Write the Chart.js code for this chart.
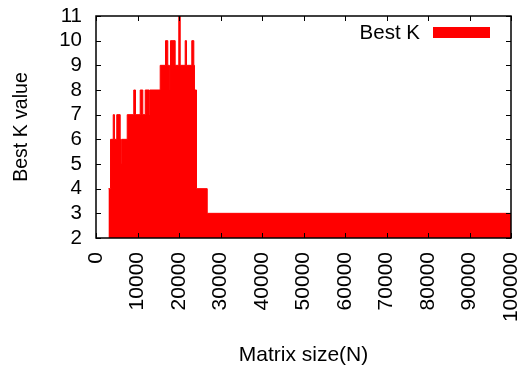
<!DOCTYPE html>
<html>
<head>
<meta charset="utf-8">
<script src="https://cdn.jsdelivr.net/npm/chart.js@4/dist/chart.umd.min.js"></script>
<style>
  html, body { margin: 0; padding: 0; background: #fff; }
  #wrap { width: 526px; height: 375px; }
</style>
</head>
<body>
<div id="wrap"><canvas id="kChart" width="526" height="375"></canvas></div>
<script>
// matrix size where a new best K starts (value holds until the next entry)
const sizes = [3000, 3500, 4150, 4450, 5000, 5830, 6070, 6220, 7520, 9100, 9520,
    10650, 11280, 11860, 12800, 12950, 15470, 16750, 17300, 17700, 17950, 19080,
    19950, 20290, 21490, 21810, 23080, 23570, 23730, 24220, 26800, 100000];
const bestK = [4, 6, 7, 6, 7, 6, 5, 6, 7, 8, 7,
    8, 7, 8, 7, 8, 9, 10, 9, 8, 10, 9,
    11, 9, 10, 9, 10, 9, 8, 4, 3, 3];
const xTicks = [0, 10000, 20000, 30000, 40000, 50000, 60000, 70000, 80000, 90000, 100000];
const yTicks = [2, 3, 4, 5, 6, 7, 8, 9, 10, 11];

const FONT = 'Liberation Sans, Arial, sans-serif';

const points = sizes.map((n, i) => ({ x: n, y: bestK[i] }));

// gnuplot style frame, inward ticks and the key
const framePlugin = {
    id: 'frame',
    afterDatasetsDraw(chart) {
        const ctx = chart.ctx;
        const a = chart.chartArea;
        const xs = chart.scales.x;
        const ys = chart.scales.y;
        const tl = 5;
        ctx.save();
        ctx.strokeStyle = '#000';
        ctx.lineWidth = 1;
        ctx.beginPath();
        xTicks.forEach(v => {
            const px = Math.round(xs.getPixelForValue(v)) + 0.5;
            ctx.moveTo(px, a.bottom); ctx.lineTo(px, a.bottom - tl);
            ctx.moveTo(px, a.top); ctx.lineTo(px, a.top + tl);
        });
        yTicks.forEach(v => {
            const py = Math.round(ys.getPixelForValue(v)) + 0.5;
            ctx.moveTo(a.left, py); ctx.lineTo(a.left + tl, py);
            ctx.moveTo(a.right, py); ctx.lineTo(a.right - tl, py);
        });
        ctx.stroke();
        ctx.lineWidth = 1.5;
        ctx.strokeRect(a.left, a.top, a.right - a.left, a.bottom - a.top);

        // key
        ctx.fillStyle = '#000';
        ctx.font = '20.5px ' + FONT;
        ctx.textAlign = 'right';
        ctx.textBaseline = 'middle';
        ctx.fillText(chart.data.datasets[0].label, 420, 33);
        ctx.fillStyle = '#ff0000';
        ctx.fillRect(433, 27, 57, 11);
        ctx.restore();
    }
};

new Chart(document.getElementById('kChart').getContext('2d'), {
    type: 'line',
    data: {
        datasets: [{
            label: 'Best K',
            data: points,
            stepped: true,
            fill: 'start',
            borderColor: '#ff0000',
            backgroundColor: '#ff0000',
            borderWidth: 1,
            pointRadius: 0
        }]
    },
    options: {
        responsive: false,
        animation: false,
        layout: { padding: { left: 6, top: 16, right: 15, bottom: 3 } },
        plugins: {
            legend: { display: false },
            tooltip: { enabled: false }
        },
        scales: {
            x: {
                type: 'linear',
                min: 0,
                max: 100000,
                grid: { display: false, drawTicks: false },
                border: { display: false },
                afterFit: s => { s.height = 134; s.paddingLeft = 0; s.paddingRight = 0; },
                afterBuildTicks: s => { s.ticks = xTicks.map(v => ({ value: v })); },
                ticks: {
                    autoSkip: false,
                    minRotation: 90,
                    maxRotation: 90,
                    padding: 14,
                    color: '#000',
                    font: { family: FONT, size: 21 },
                    callback: v => String(v)
                },
                title: {
                    display: true,
                    text: 'Matrix size(N)',
                    color: '#000',
                    font: { family: FONT, size: 21 },
                    padding: { top: 4, bottom: 4 }
                }
            },
            y: {
                min: 2,
                max: 11,
                grid: { display: false, drawTicks: false },
                border: { display: false },
                afterFit: s => { s.width = 90; s.paddingTop = 0; s.paddingBottom = 0; },
                afterBuildTicks: s => { s.ticks = yTicks.map(v => ({ value: v })); },
                ticks: {
                    autoSkip: false,
                    padding: 14,
                    color: '#000',
                    font: { family: FONT, size: 20.5 }
                },
                title: {
                    display: true,
                    text: 'Best K value',
                    color: '#000',
                    font: { family: FONT, size: 19.5 },
                    padding: { top: 4, bottom: 4 }
                }
            }
        }
    },
    plugins: [framePlugin]
});
</script>
</body>
</html>
